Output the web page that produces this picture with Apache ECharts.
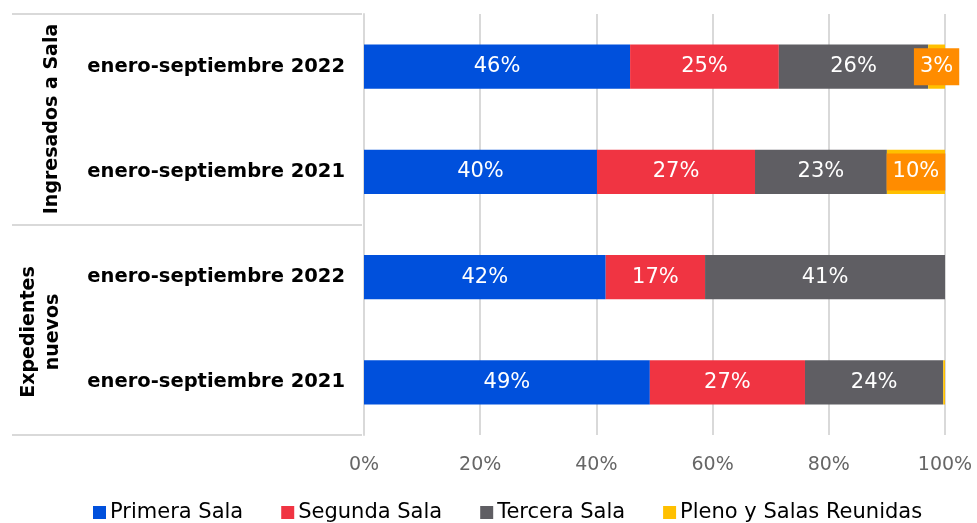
<!DOCTYPE html>
<html>
<head>
<meta charset="utf-8">
<script src="https://cdn.jsdelivr.net/npm/echarts@6/dist/echarts.min.js"></script>
<style>
  html, body { margin: 0; padding: 0; background: #fff; }
  #chart { width: 977px; height: 523px; }
</style>
</head>
<body>
<div id="chart"></div>
<script>
// Categories (top to bottom)
const categories = ['enero-septiembre 2022', 'enero-septiembre 2021', 'enero-septiembre 2022 ', 'enero-septiembre 2021 '];
const groups = ['Ingresados a Sala', 'Expedientes\nnuevos'];

// Series values (%)
const primera = [45.8, 40.1, 41.6, 49.2];
const segunda = [25.6, 27.2, 17.1, 26.7];
const tercera = [25.7, 22.7, 41.3, 23.8];
const pleno = [2.9, 10.0, 0, 0.3];

const labelsPrimera = ['46%', '40%', '42%', '49%'];
const labelsSegunda = ['25%', '27%', '17%', '27%'];
const labelsTercera = ['26%', '23%', '41%', '24%'];
const labelsPleno = ['3%', '10%', '', ''];

const xTicks = [0, 20, 40, 60, 80, 100];

const chart = echarts.init(document.getElementById('chart'));
const font = 'DejaVu Sans';

function makeSeries(name, values, labels, color, extraLabel) {
    return {
        name: name,
        type: 'bar',
        stack: 'total',
        barWidth: '42%',
        itemStyle: { color: color },
        data: values.map((v, i) => ({
            value: v,
            label: {
                show: labels[i] !== '',
                formatter: labels[i],
                ...(extraLabel || {})
            }
        })),
        label: {
            position: 'inside',
            color: '#fff',
            fontFamily: font,
            fontSize: 21
        }
    };
}

const option = {
    animation: false,
    textStyle: { fontFamily: font },
    grid: { left: 364, right: 32, top: 14, bottom: 88 },
    xAxis: {
        type: 'value',
        min: 0,
        max: 100,
        interval: 20,
        axisLabel: {
            formatter: v => xTicks.includes(v) ? v + '%' : '',
            color: '#666',
            fontSize: 19,
            margin: 21,
            fontFamily: font
        },
        splitLine: { lineStyle: { color: '#d9d9d9', width: 2 } },
        axisLine: { show: false },
        axisTick: { show: false }
    },
    yAxis: {
        type: 'category',
        inverse: true,
        data: categories,
        axisLine: { lineStyle: { color: '#d9d9d9', width: 2 } },
        axisTick: { show: false },
        axisLabel: {
            color: '#000',
            fontWeight: 'bold',
            fontSize: 19.5,
            margin: 19,
            fontFamily: font,
            formatter: v => v.trim()
        }
    },
    legend: {
        bottom: -5,
        left: 88,
        itemWidth: 13,
        itemHeight: 13,
        itemGap: 38,
        icon: 'rect',
        textStyle: { fontSize: 21, color: '#000', fontFamily: font, padding: [0, 0, 0, -1] }
    },
    series: [
        makeSeries('Primera Sala', primera, labelsPrimera, '#0050dc'),
        makeSeries('Segunda Sala', segunda, labelsSegunda, '#f03442'),
        makeSeries('Tercera Sala', tercera, labelsTercera, '#5f5e63'),
        makeSeries('Pleno y Salas Reunidas', pleno, labelsPleno, '#ffc000', {
            backgroundColor: '#ff8c00',
            padding: [8, 6, 8, 6]
        })
    ],
    graphic: [
        { type: 'line', shape: { x1: 12, y1: 14, x2: 362, y2: 14 }, style: { stroke: '#d9d9d9', lineWidth: 2 } },
        { type: 'line', shape: { x1: 12, y1: 225, x2: 362, y2: 225 }, style: { stroke: '#d9d9d9', lineWidth: 2 } },
        { type: 'line', shape: { x1: 12, y1: 435, x2: 362, y2: 435 }, style: { stroke: '#d9d9d9', lineWidth: 2 } },
        {
            type: 'text', x: 52, y: 119, rotation: Math.PI / 2,
            style: { text: groups[0], fill: '#000', font: 'bold 19px "DejaVu Sans"', align: 'center', verticalAlign: 'middle' }
        },
        {
            type: 'text', x: 41, y: 332, rotation: Math.PI / 2,
            style: { text: groups[1], fill: '#000', font: 'bold 19px "DejaVu Sans"', align: 'center', verticalAlign: 'middle', lineHeight: 24 }
        }
    ]
};

chart.setOption(option);
window.addEventListener('resize', () => chart.resize());
</script>
</body>
</html>
